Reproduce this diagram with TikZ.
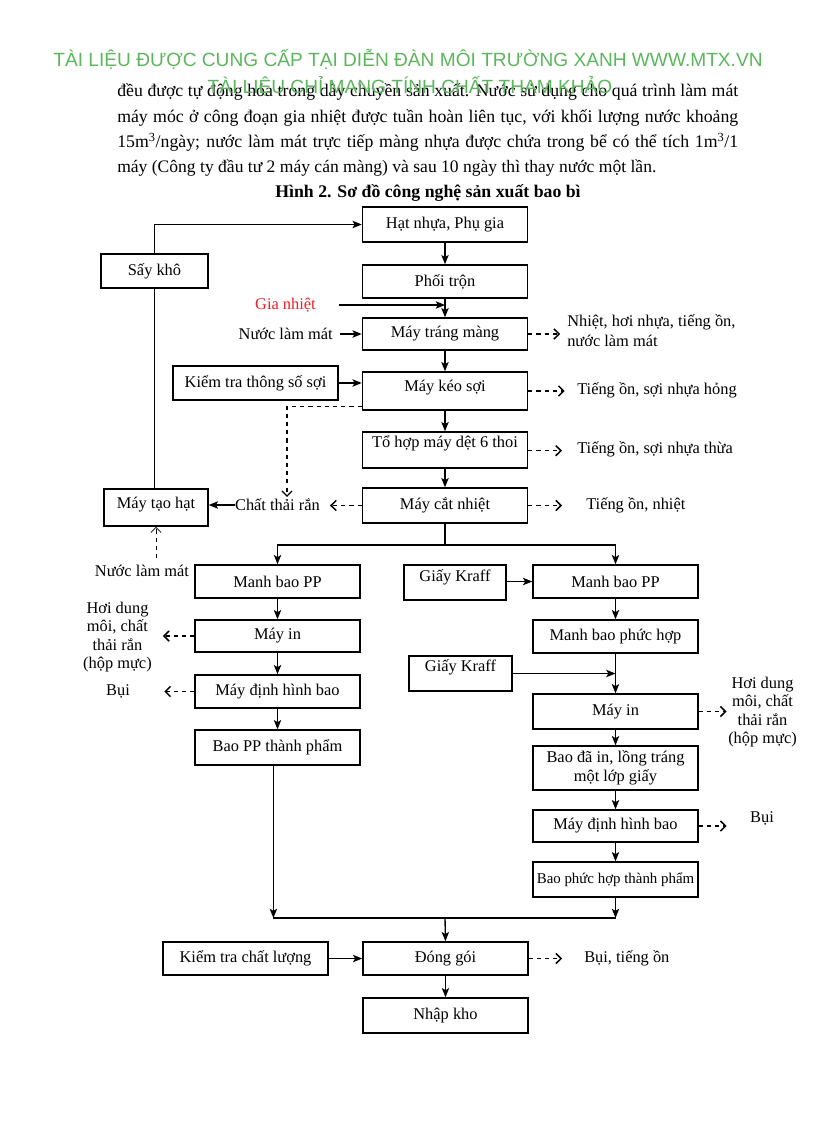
\documentclass[tikz,border=0pt]{standalone}
\usepackage{fontspec}
\setmainfont{Liberation Serif}
\newfontfamily\wmfont{Liberation Sans}
\usetikzlibrary{arrows.meta}
\definecolor{wmgreen}{RGB}{92,182,92}
\definecolor{hotred}{RGB}{235,30,36}

\begin{document}
\begin{tikzpicture}[x=0.7322pt,y=-0.7322pt,>={Stealth[length=6.8pt,width=5.4pt,inset=1.6pt]},
  proc node/.style={draw,line width=1.1pt,minimum width=120.8pt,minimum height=24.2pt,
    inner sep=1pt,font=\fontsize{12}{14}\selectfont},
  lift/.style={text depth=#1},
  note node/.style={inner sep=0pt,font=\fontsize{12}{13.5}\selectfont},
  body line/.style={anchor=base west,inner sep=0pt,font=\fontsize{13}{15}\selectfont},
  wm/.style={inner sep=0pt,text=wmgreen,font=\wmfont\fontsize{14}{16}\selectfont},
  flow/.style={->,line width=0.8pt},
  heavy flow/.style={->,line width=1.2pt},
  waste/.style={-{Straight Barb[length=3.8pt,width=7.5pt]},dashed,line width=1.1pt}]
  \useasboundingbox (0,0) rectangle (816,1123);

  % page text
  \node[body line] (l1) at (117,97) {\makebox[454.7pt][s]{đều được tự động hóa trong dây chuyền sản xuất. Nước sử dụng cho quá trình làm mát}};
  \node[body line] (l2) at (117,122) {\makebox[454.7pt][s]{máy móc ở công đoạn gia nhiệt được tuần hoàn liên tục, với khối lượng nước khoảng}};
  \node[body line] (l3) at (117,147) {\makebox[454.7pt][s]{15m\textsuperscript{3}/ngày; nước làm mát trực tiếp màng nhựa được chứa trong bể có thể tích 1m\textsuperscript{3}/1}};
  \node[body line,font=\fontsize{12.85}{15}\selectfont] (l4) at (117,172) {máy (Công ty đầu tư 2 máy cán màng) và sau 10 ngày thì thay nước một lần.};
  \node[inner sep=0pt,font=\bfseries\fontsize{13}{15}\selectfont] (cap) at (428,193) {Hình 2. Sơ đồ công nghệ sản xuất bao bì};
  \node[wm] (wm1) at (408,59) {TÀI LIỆU ĐƯỢC CUNG CẤP TẠI DIỄN ĐÀN MÔI TRƯỜNG XANH WWW.MTX.VN};
  \node[wm] (wm2) at (410,86) {TÀI LIỆU CHỈ MANG TÍNH CHẤT THAM KHẢO};

  % main line
  \node[proc node,minimum height=25.6pt] (hat) at (445,224.5) {Hạt nhựa, Phụ gia};
  \node[proc node,minimum width=78.3pt,minimum height=24.9pt] (say) at (154.5,271) {Sấy khô};
  \node[proc node] (phoi) at (445,281.5) {Phối trộn};
  \node[proc node,minimum height=23.4pt] (trang) at (445,334) {Máy tráng màng};
  \node[proc node,minimum height=24.9pt] (ktsoi) at (255.5,383) {Kiểm tra thông số sợi};
  \node[proc node,minimum height=27.8pt,lift=8pt] (keo) at (445,391) {Máy kéo sợi};
  \node[proc node,minimum height=26.4pt,lift=12.5pt] (tohop) at (445,450) {Tổ hợp máy dệt 6 thoi};
  \node[proc node,minimum height=25.6pt] (cat) at (445,505.5) {Máy cắt nhiệt};
  \node[proc node,minimum width=76.1pt,minimum height=27.1pt,lift=7.5pt] (taohat) at (156,507.5) {Máy tạo hạt};

  \node[note node,text=hotred,anchor=east] (gia) at (316,305) {Gia nhiệt};
  \node[note node,anchor=east] (nuoc1) at (333,334) {Nước làm mát};
  \node[note node,anchor=west,align=left,font=\fontsize{12}{14.6}\selectfont] (trangout) at (567,331) {Nhiệt, hơi nhựa, tiếng ồn,\\nước làm mát};
  \node[note node,anchor=west] (keoout) at (577,390) {Tiếng ồn, sợi nhựa hỏng};
  \node[note node,anchor=west] (tohopout) at (577,449) {Tiếng ồn, sợi nhựa thừa};
  \node[note node,anchor=west] (catout) at (586,505) {Tiếng ồn, nhiệt};
  \node[note node,anchor=east] (ctr) at (320,505) {Chất thải rắn};
  \node[note node] (nuoc2) at (142,571) {Nước làm mát};
  \coordinate (ctrtop) at (287,497);
  \coordinate (split) at (445,545);

  % left branch
  \node[proc node] (ppL) at (277.5,581.5) {Manh bao PP};
  \node[proc node,minimum height=23.4pt] (inL) at (277.5,636) {Máy in};
  \node[proc node] (dinhL) at (277.5,691.5) {Máy định hình bao};
  \node[proc node,minimum height=25.6pt] (tpL) at (277.5,747.5) {Bao PP thành phẩm};
  \node[note node,align=center,anchor=east] (inLout) at (152,637) {Hơi dung\\môi, chất\\thải rắn\\(hộp mực)};
  \node[note node] (buiL) at (118,691) {Bụi};

  % right branch
  \node[proc node,minimum width=74.7pt,minimum height=25.6pt,lift=10pt] (kraft1) at (455,582.5) {Giấy Kraff};
  \node[proc node] (ppR) at (615.5,581.5) {Manh bao PP};
  \node[proc node] (phuc) at (615.5,636.5) {Manh bao phức hợp};
  \node[proc node,minimum width=75.4pt,minimum height=25.6pt,lift=11.5pt] (kraft2) at (460.5,673.5) {Giấy Kraff};
  \node[proc node,minimum height=25.6pt] (inR) at (615.5,711.5) {Máy in};
  \node[proc node,minimum height=32.2pt,align=center,font=\fontsize{12}{14}\selectfont] (long) at (615.5,768) {Bao đã in, lồng tráng\\một lớp giấy};
  \node[proc node,minimum height=23.4pt] (dinhR) at (615.5,826) {Máy định hình bao};
  \node[proc node,minimum height=25.6pt,font=\fontsize{10.9}{13}\selectfont] (tpR) at (615.5,879.5) {Bao phức hợp thành phẩm};
  \node[note node,align=center,anchor=west] (inRout) at (728,712) {Hơi dung\\môi, chất\\thải rắn\\(hộp mực)};
  \node[note node] (buiR) at (762,818) {Bụi};
  \coordinate (join) at (445,918);

  % packing
  \node[proc node] (ktcl) at (245.5,958.5) {Kiểm tra chất lượng};
  \node[proc node] (dong) at (445.5,958.5) {Đóng gói};
  \node[proc node,minimum height=25.6pt] (nhap) at (445.5,1015.5) {Nhập kho};
  \node[note node,anchor=west] (dongout) at (584,958) {Bụi, tiếng ồn};

  % connectors
  \draw[flow] (say.north) |- (hat.west);
  \draw[flow] (hat) -- (phoi);
  \draw[flow] (phoi) -- (trang);
  \draw[flow,shorten <=17pt] (gia.east) -- (gia.east -| phoi.south);
  \draw[heavy flow,shorten <=5pt] (nuoc1.east) -- (trang.west);
  \draw[flow] (trang) -- (keo);
  \draw[heavy flow] (ktsoi.east) -- (ktsoi.east -| keo.west);
  \draw[flow] (keo) -- (tohop);
  \draw[flow] (tohop) -- (cat);
  \draw[waste,line width=0.9pt] ([yshift=3pt]keo.south west) -| (ctrtop);
  \draw[waste,shorten >=5pt] (trang.east) -- (trang.east -| trangout.west);
  \draw[waste,shorten >=9pt] (keo.east) -- (keo.east -| keoout.west);
  \draw[waste,shorten >=11pt] ([yshift=-0.5pt]tohop.east) -- ([yshift=-0.5pt]tohop.east -| tohopout.west);
  \draw[waste,shorten >=17.5pt] (cat.east) -- (cat.east -| catout.west);
  \draw[waste,shorten >=7.3pt] (cat.west) -- (cat.west -| ctr.east);
  \draw[heavy flow] (ctr.west) -- (ctr.west -| taohat.east);
  \draw[line width=0.9pt] (taohat.north -| say.south) -- (say.south);
  \draw[waste,line width=0.6pt,shorten <=5pt] (nuoc2.north -| taohat.south) -- (taohat.south);

  \draw[line width=1pt] (cat.south) -- (split);
  \draw[flow,line width=1pt] (split) -| (ppL.north);
  \draw[flow,line width=1pt] (split) -| (ppR.north);
  \draw[flow] (kraft1.east |- ppR.west) -- (ppR.west);

  \draw[flow] (ppL) -- (inL);
  \draw[flow] (inL) -- (dinhL);
  \draw[flow] (dinhL) -- (tpL);
  \draw[waste,shorten >=8pt] (inL.west) -- (inL.west -| inLout.east);
  \draw[waste,shorten >=25pt] (dinhL.west) -- (dinhL.west -| buiL.east);
  \draw[flow,line width=1pt] ([xshift=-3pt]tpL.south) -- ([xshift=-3pt]tpL.south |- join);

  \draw[flow] (ppR) -- (phuc);
  \draw[flow] (phuc) -- (inR);
  \draw[flow] (kraft2.east) -- (kraft2.east -| phuc.south);
  \draw[waste,shorten >=1pt] (inR.east) -- (inR.east -| inRout.west);
  \draw[flow] (inR) -- (long);
  \draw[flow] (long) -- (dinhR);
  \draw[flow] (dinhR) -- (tpR);
  \draw[waste,shorten >=17pt] (dinhR.east) -- (dinhR.east -| buiR.west);
  \draw[flow] (tpR.south) -- (tpR.south |- join);

  \draw[line width=1pt] ([xshift=-3pt]tpL.south |- join) -- (tpR.south |- join);
  \draw[flow,line width=1pt] (join) -- (dong.north);
  \draw[heavy flow] (ktcl) -- (dong);
  \draw[waste,shorten >=16pt] (dong.east) -- (dong.east -| dongout.west);
  \draw[flow] (dong) -- (nhap);
\end{tikzpicture}
\end{document}
